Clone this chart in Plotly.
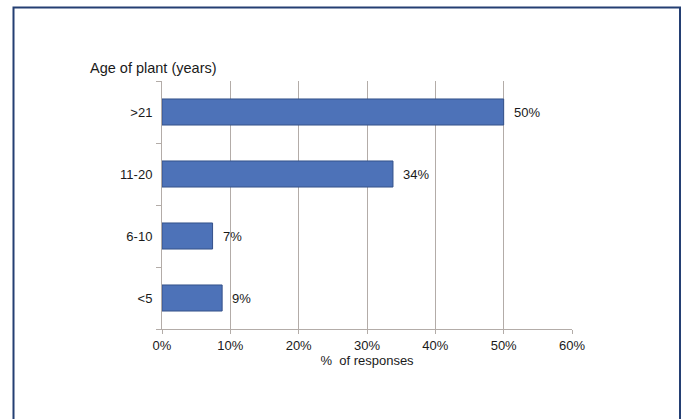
import plotly.graph_objects as go

categories = ["&lt;5", "6-10", "11-20", "&gt;21"]
values = [8.8, 7.4, 33.8, 50.0]
labels = ["9%", "7%", "34%", "50%"]
x_ticks = [0, 10, 20, 30, 40, 50, 60]
x_ticktext = ["0%", "10%", "20%", "30%", "40%", "50%", "60%"]

W, H = 683, 419
L, R, T, B = 162, 572, 81, 329

def px(x):
    return (x - L) / (R - L)

def py(y):
    return (B - y) / (B - T)

FAM = "Liberation Sans, Arial"
font = dict(family=FAM, size=13, color="#1a1a1a")
gridc = "#b3aca8"

fig = go.Figure()
fig.add_trace(go.Bar(
    x=values, y=categories, orientation="h",
    marker=dict(color="#4d72b8", line=dict(color="#34518a", width=1)),
    width=0.42, hoverinfo="skip",
))

annotations = [dict(x=v, y=c, text=t, xref="x", yref="y", xanchor="left",
                    yanchor="middle", xshift=8, showarrow=False,
                    font=dict(family=FAM, size=13, color="#1a1a1a"))
               for v, c, t in zip(values, categories, labels)]
annotations.append(dict(text="Age of plant (years)", x=px(88), y=py(68),
                        xref="paper", yref="paper", xanchor="left", yanchor="middle",
                        showarrow=False, font=dict(family=FAM, size=14.5, color="#1a1a1a")))

fig.update_layout(
    width=W, height=H, margin=dict(l=L, r=W - R, t=T, b=H - B),
    paper_bgcolor="white", plot_bgcolor="white",
    showlegend=False, font=font,
    xaxis=dict(range=[0, 60], tickvals=x_ticks, ticktext=x_ticktext,
               showgrid=True, gridcolor=gridc, gridwidth=1,
               showline=True, linecolor=gridc, linewidth=1,
               ticks="outside", ticklen=4, tickcolor=gridc,
               zeroline=False, tickfont=font,
               title=dict(text="%  of responses", font=font, standoff=0)),
    yaxis=dict(categoryorder="array", categoryarray=categories,
               showline=True, linecolor=gridc, linewidth=1,
               ticks="outside", ticklen=5, tickcolor=gridc,
               tickson="boundaries", showgrid=False, tickfont=font,
               ticklabelstandoff=6),
    annotations=annotations,
    shapes=[dict(type="rect", xref="paper", yref="paper",
                 x0=px(13.5), x1=px(680), y0=py(430), y1=py(7.5),
                 line=dict(color="#243f73", width=2), fillcolor="rgba(0,0,0,0)")],
)

fig.write_html("out.html")
